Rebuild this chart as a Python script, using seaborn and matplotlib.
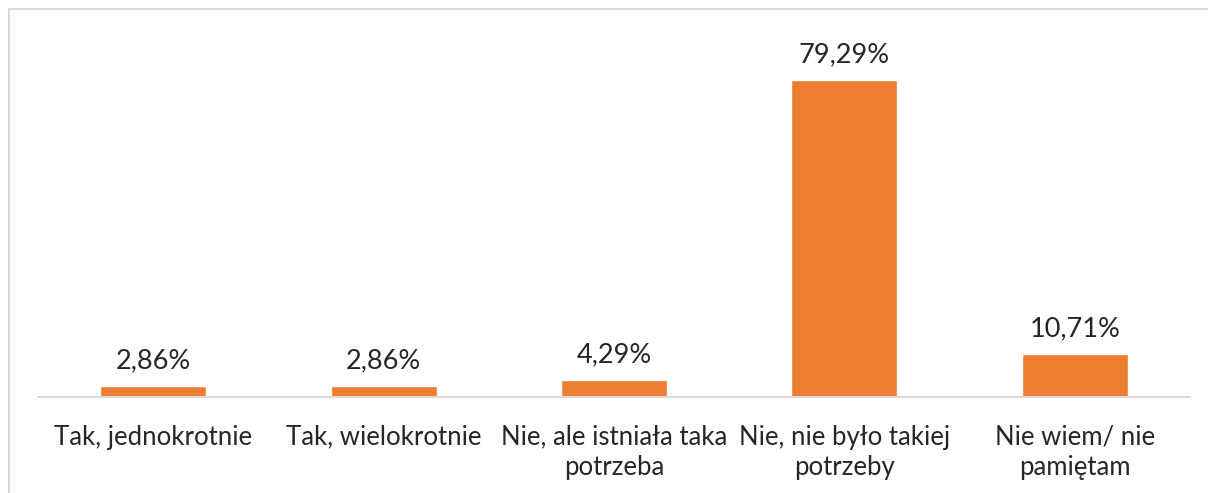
import matplotlib
matplotlib.use("Agg")
import matplotlib.pyplot as plt
import seaborn as sns
import pandas as pd
from matplotlib.lines import Line2D

categories = [
    "Tak, jednokrotnie",
    "Tak, wielokrotnie",
    "Nie, ale istniała taka\npotrzeba",
    "Nie, nie było takiej\npotrzeby",
    "Nie wiem/ nie\npamiętam",
]
values = [2.86, 2.86, 4.29, 79.29, 10.71]
value_labels = ["2,86%", "2,86%", "4,29%", "79,29%", "10,71%"]

sns.set_theme(style="white")
plt.rcParams['font.family'] = ['Lato', 'DejaVu Sans']

df = pd.DataFrame({"kategoria": categories, "wartosc": values})

fig = plt.figure(figsize=(12.08, 4.93), dpi=100)
ax = fig.add_axes([38 / 1208, 96 / 493, 1152 / 1208, 360 / 493])

sns.barplot(data=df, x="kategoria", y="wartosc", color="#ED7D31",
            width=0.46, saturation=1, ax=ax)

ax.set_ylim(0, 90)
ax.set_xlim(-0.5, len(categories) - 0.5)
for i, (v, lab) in enumerate(zip(values, value_labels)):
    ax.annotate(lab, (i, v), xytext=(0, 9), textcoords="offset points",
                ha="center", va="bottom", fontsize=19.5, color="#262626")

ax.set_xlabel("")
ax.set_ylabel("")
ax.set_yticks([])
ax.tick_params(axis="x", length=0, pad=20, labelsize=18.5, labelcolor="#262626")
for t in ax.get_xticklabels():
    t.set_linespacing(1.25)
for side in ["top", "right", "left"]:
    ax.spines[side].set_visible(False)
ax.spines["bottom"].set_color("#d9d9d9")
ax.spines["bottom"].set_linewidth(1.5)

# chart area border (cropped at right and bottom)
x0 = 8.5 / 1208
y0 = 1 - 8.5 / 493
fig.add_artist(Line2D([x0, x0], [0, y0], color="#d9d9d9", lw=1.5, transform=fig.transFigure))
fig.add_artist(Line2D([x0, 1], [y0, y0], color="#d9d9d9", lw=1.5, transform=fig.transFigure))

fig.savefig("out.png", dpi=100)
